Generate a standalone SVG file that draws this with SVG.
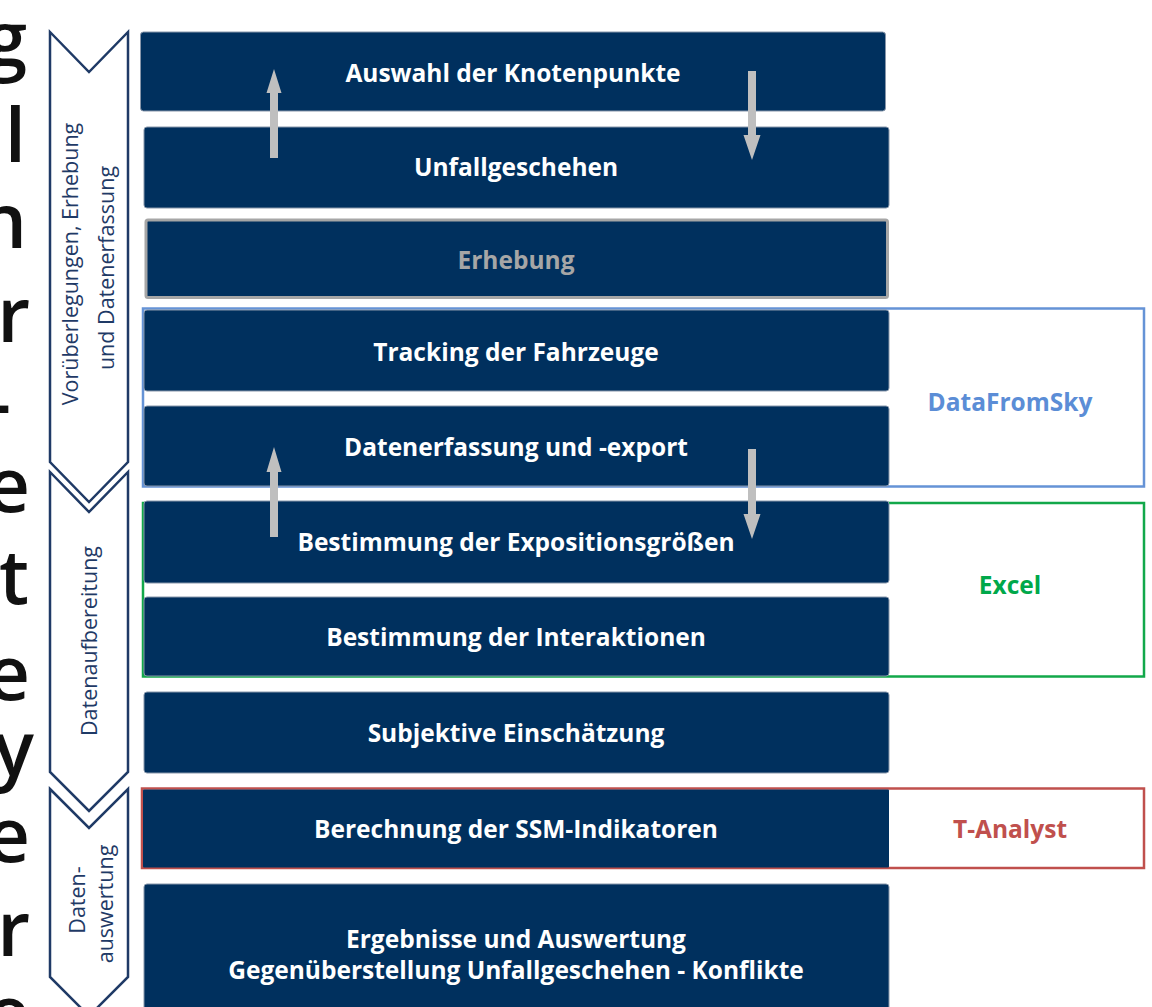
<svg xmlns="http://www.w3.org/2000/svg" width="1152" height="1007" viewBox="0 0 1152 1007">
  <defs>
    <style>
      .step { fill: #00305E; stroke: #8796aa; stroke-width: 1; }
      .step-text { font-family: "Open Sans", "Noto Sans", sans-serif; font-weight: 700; font-size: 24.5px; fill: #ffffff; text-anchor: middle; }
      .phase { fill: #ffffff; stroke: #1F3A66; stroke-width: 2.5; stroke-linejoin: miter; }
      .phase-text { font-family: "Open Sans", "Noto Sans", sans-serif; font-size: 21.5px; fill: #1F3A66; text-anchor: middle; }
      .tool { fill: #ffffff; stroke-width: 2.5; }
      .tool-text { font-family: "Open Sans", "Noto Sans", sans-serif; font-weight: 700; font-size: 24.5px; text-anchor: middle; }
      .flow { fill: #BFBFBF; }
      .edge-glyph { font-family: "Open Sans", "Noto Sans", sans-serif; font-weight: 600; font-size: 76px; fill: #111111; text-anchor: end; }
    </style>
  </defs>

  <rect width="1152" height="1007" fill="#ffffff"/>

  <!-- large heading glyphs running off the left edge -->
  <g id="edge-heading">
    <text class="edge-glyph" x="27" y="66">g</text>
    <text class="edge-glyph" x="26" y="162">l</text>
    <text class="edge-glyph" x="27" y="248">n</text>
    <text class="edge-glyph" x="30" y="342">r</text>
    <text class="edge-glyph" x="11" y="430">-</text>
    <text class="edge-glyph" x="30" y="512">e</text>
    <text class="edge-glyph" x="29" y="604">t</text>
    <text class="edge-glyph" x="30" y="700">e</text>
    <text class="edge-glyph" x="34" y="776">y</text>
    <text class="edge-glyph" x="30" y="862">e</text>
    <text class="edge-glyph" x="30" y="956">r</text>
    <text class="edge-glyph" x="30" y="1040">e</text>
  </g>

  <!-- phase chevrons -->
  <g id="phase-erhebung">
    <path class="phase" d="M50,32 L89,72 L128,32 L128,462 L89,502 L50,462 Z"/>
    <text class="phase-text" transform="translate(78,264) rotate(-90)">Vorüberlegungen, Erhebung</text>
    <text class="phase-text" transform="translate(114,268) rotate(-90)">und Datenerfassung</text>
  </g>
  <g id="phase-aufbereitung">
    <path class="phase" d="M50,472 L89,512 L128,472 L128,772 L89,811 L50,772 Z"/>
    <text class="phase-text" transform="translate(97,641) rotate(-90)">Datenaufbereitung</text>
  </g>
  <g id="phase-auswertung">
    <path class="phase" d="M50,789 L89,828 L128,789 L128,977 L89,1016 L50,977 Z"/>
    <text class="phase-text" transform="translate(85,900) rotate(-90)">Daten-</text>
    <text class="phase-text" transform="translate(113,904) rotate(-90)">auswertung</text>
  </g>

  <!-- tool brackets -->
  <g id="tool-datafromsky">
    <rect class="tool" x="143" y="308.5" width="1001" height="178" stroke="#6593D6"/>
    <text class="tool-text" x="1010" y="411" fill="#5B8DD6">DataFromSky</text>
  </g>
  <g id="tool-excel">
    <rect class="tool" x="143" y="503" width="1001" height="173.5" stroke="#12A84A"/>
    <text class="tool-text" x="1010" y="594" fill="#00A84A">Excel</text>
  </g>
  <g id="tool-tanalyst">
    <rect class="tool" x="142" y="788.5" width="1002" height="79.5" stroke="#C0504D"/>
    <text class="tool-text" x="1010" y="838" fill="#C0504D">T-Analyst</text>
  </g>

  <!-- process steps -->
  <g id="step-auswahl">
    <rect class="step" x="140.5" y="32" width="745" height="79" rx="3"/>
    <text class="step-text" x="513" y="82">Auswahl der Knotenpunkte</text>
  </g>
  <g id="step-unfallgeschehen">
    <rect class="step" x="144" y="127" width="745" height="81" rx="3"/>
    <text class="step-text" x="516" y="176">Unfallgeschehen</text>
  </g>
  <g id="step-erhebung">
    <rect x="146" y="220" width="741.5" height="77.5" rx="2" fill="#00305E" stroke="#A6A6A6" stroke-width="3"/>
    <text class="step-text" x="516" y="269" style="fill:#A6A6A6">Erhebung</text>
  </g>
  <g id="step-tracking">
    <rect class="step" x="144" y="310" width="745" height="81" rx="3"/>
    <text class="step-text" x="516" y="361">Tracking der Fahrzeuge</text>
  </g>
  <g id="step-datenerfassung">
    <rect class="step" x="144" y="406" width="745" height="80" rx="3"/>
    <text class="step-text" x="516" y="456">Datenerfassung und -export</text>
  </g>
  <g id="step-exposition">
    <rect class="step" x="144" y="501" width="745" height="82" rx="3"/>
    <text class="step-text" x="516" y="551">Bestimmung der Expositionsgrößen</text>
  </g>
  <g id="step-interaktionen">
    <rect class="step" x="144" y="597" width="745" height="79" rx="3"/>
    <text class="step-text" x="516" y="646">Bestimmung der Interaktionen</text>
  </g>
  <g id="step-subjektiv">
    <rect class="step" x="144" y="692" width="745" height="81" rx="3"/>
    <text class="step-text" x="516" y="742">Subjektive Einschätzung</text>
  </g>
  <g id="step-ssm">
    <rect class="step" x="143" y="789.5" width="746" height="78" rx="1" style="stroke:none"/>
    <text class="step-text" x="516" y="838">Berechnung der SSM-Indikatoren</text>
  </g>
  <g id="step-ergebnisse">
    <rect class="step" x="144" y="884" width="745" height="130" rx="3"/>
    <text class="step-text" x="516" y="948">Ergebnisse und Auswertung</text>
    <text class="step-text" x="516" y="979">Gegenüberstellung Unfallgeschehen - Konflikte</text>
  </g>

  <!-- iteration arrows between steps -->
  <g id="connectors">
    <path class="flow" d="M270,158 L270,93 L266.5,93 L274,69 L281.5,93 L278,93 L278,158 Z"/>
    <path class="flow" d="M748,71 L748,135 L743.5,135 L752,160 L760.5,135 L756,135 L756,71 Z"/>
    <path class="flow" d="M270,537 L270,472 L266.5,472 L274,447 L281.5,472 L278,472 L278,537 Z"/>
    <path class="flow" d="M748,449 L748,514 L743.5,514 L752,539 L760.5,514 L756,514 L756,449 Z"/>
  </g>
</svg>
